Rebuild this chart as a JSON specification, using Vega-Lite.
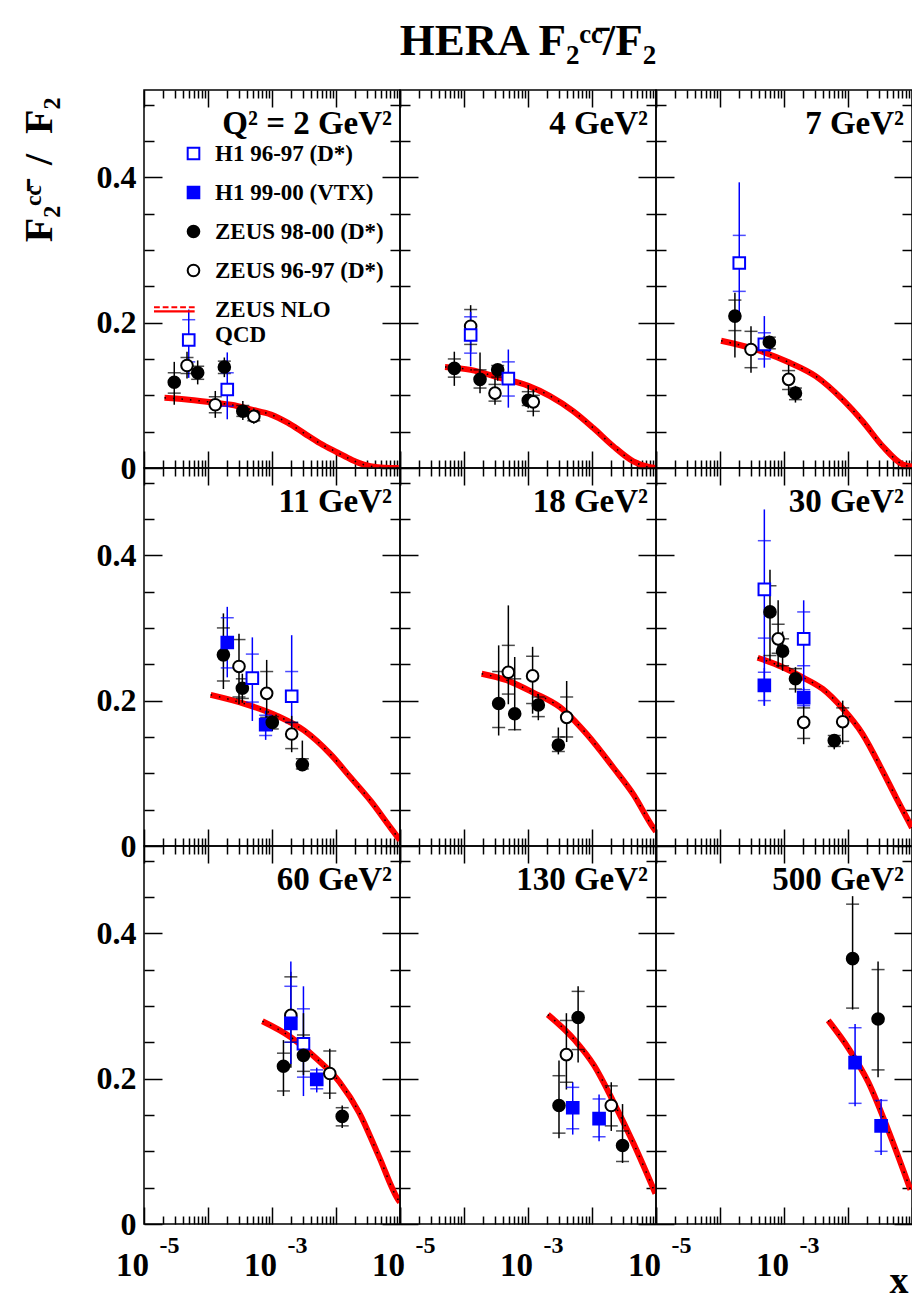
{
"$schema":"https://vega.github.io/schema/vega-lite/v6.json",
"background":"white",
"padding":{"left":18,"top":18,"right":2,"bottom":2},
"title":{"text":"HERA F\u2082\u1d9c\u1d9c\u0304/F\u2082","anchor":"middle","offset":25,"dx":384,"fontSize":45},
"datasets":{
"pts":[
{"q":2,"s":"ZEUS 98-00 (D*)","x":2.97e-5,"y":0.118,"lo":0.087,"hi":0.146,"slo":0.103,"shi":0.131},
{"q":2,"s":"ZEUS 96-97 (D*)","x":4.7e-5,"y":0.141,"lo":0.123,"hi":0.160,"slo":0.130,"shi":0.152},
{"q":2,"s":"H1 96-97 (D*)","x":5.0e-5,"y":0.176,"lo":0.124,"hi":0.218,"slo":0.146,"shi":0.204},
{"q":2,"s":"ZEUS 98-00 (D*)","x":6.9e-5,"y":0.131,"lo":0.115,"hi":0.148,"slo":0.122,"shi":0.140},
{"q":2,"s":"ZEUS 96-97 (D*)","x":1.3e-4,"y":0.087,"lo":0.069,"hi":0.106,"slo":0.076,"shi":0.098},
{"q":2,"s":"ZEUS 98-00 (D*)","x":1.8e-4,"y":0.139,"lo":0.125,"hi":0.152,"slo":0.130,"shi":0.147},
{"q":2,"s":"H1 96-97 (D*)","x":2.0e-4,"y":0.108,"lo":0.067,"hi":0.159,"slo":0.085,"shi":0.131},
{"q":2,"s":"ZEUS 98-00 (D*)","x":3.5e-4,"y":0.078,"lo":0.066,"hi":0.092,"slo":0.071,"shi":0.086},
{"q":2,"s":"ZEUS 96-97 (D*)","x":5.2e-4,"y":0.071,"lo":0.061,"hi":0.082,"slo":0.065,"shi":0.077},
{"q":4,"s":"ZEUS 98-00 (D*)","x":7.06e-5,"y":0.137,"lo":0.113,"hi":0.160,"slo":0.125,"shi":0.150},
{"q":4,"s":"ZEUS 96-97 (D*)","x":1.27e-4,"y":0.195,"lo":0.160,"hi":0.224,"slo":0.170,"shi":0.218},
{"q":4,"s":"H1 96-97 (D*)","x":1.27e-4,"y":0.183,"lo":0.140,"hi":0.215,"slo":0.158,"shi":0.208},
{"q":4,"s":"ZEUS 98-00 (D*)","x":1.78e-4,"y":0.122,"lo":0.103,"hi":0.159,"slo":0.110,"shi":0.135},
{"q":4,"s":"ZEUS 96-97 (D*)","x":3.05e-4,"y":0.103,"lo":0.087,"hi":0.123,"slo":0.092,"shi":0.115},
{"q":4,"s":"ZEUS 98-00 (D*)","x":3.36e-4,"y":0.135,"lo":0.120,"hi":0.143,"slo":0.125,"shi":0.141},
{"q":4,"s":"H1 96-97 (D*)","x":4.93e-4,"y":0.123,"lo":0.083,"hi":0.163,"slo":0.099,"shi":0.146},
{"q":4,"s":"ZEUS 98-00 (D*)","x":1.01e-3,"y":0.093,"lo":0.082,"hi":0.114,"slo":0.086,"shi":0.105},
{"q":4,"s":"ZEUS 96-97 (D*)","x":1.21e-3,"y":0.091,"lo":0.071,"hi":0.108,"slo":0.078,"shi":0.100},
{"q":7,"s":"ZEUS 98-00 (D*)","x":1.71e-4,"y":0.209,"lo":0.152,"hi":0.241,"slo":0.189,"shi":0.231},
{"q":7,"s":"H1 96-97 (D*)","x":2.0e-4,"y":0.282,"lo":0.210,"hi":0.393,"slo":0.243,"shi":0.320},
{"q":7,"s":"ZEUS 96-97 (D*)","x":3.05e-4,"y":0.163,"lo":0.131,"hi":0.195,"slo":0.138,"shi":0.188},
{"q":7,"s":"H1 96-97 (D*)","x":4.93e-4,"y":0.170,"lo":0.138,"hi":0.209,"slo":0.150,"shi":0.186},
{"q":7,"s":"ZEUS 98-00 (D*)","x":5.9e-4,"y":0.173,"lo":0.160,"hi":0.182,"slo":0.164,"shi":0.180},
{"q":7,"s":"ZEUS 96-97 (D*)","x":1.18e-3,"y":0.122,"lo":0.100,"hi":0.142,"slo":0.108,"shi":0.134},
{"q":7,"s":"ZEUS 98-00 (D*)","x":1.51e-3,"y":0.103,"lo":0.090,"hi":0.113,"slo":0.094,"shi":0.110},
{"q":11,"s":"ZEUS 98-00 (D*)","x":1.74e-4,"y":0.263,"lo":0.216,"hi":0.320,"slo":0.227,"shi":0.300},
{"q":11,"s":"H1 99-00 (VTX)","x":2.0e-4,"y":0.280,"lo":0.232,"hi":0.329,"slo":0.245,"shi":0.314},
{"q":11,"s":"ZEUS 96-97 (D*)","x":3.05e-4,"y":0.247,"lo":0.195,"hi":0.292,"slo":0.205,"shi":0.284},
{"q":11,"s":"ZEUS 98-00 (D*)","x":3.44e-4,"y":0.217,"lo":0.197,"hi":0.237,"slo":0.203,"shi":0.230},
{"q":11,"s":"H1 96-97 (D*)","x":4.93e-4,"y":0.231,"lo":0.172,"hi":0.287,"slo":0.198,"shi":0.264},
{"q":11,"s":"H1 99-00 (VTX)","x":7.96e-4,"y":0.167,"lo":0.146,"hi":0.186,"slo":0.152,"shi":0.180},
{"q":11,"s":"ZEUS 96-97 (D*)","x":8.26e-4,"y":0.210,"lo":0.168,"hi":0.256,"slo":0.177,"shi":0.240},
{"q":11,"s":"ZEUS 98-00 (D*)","x":1.01e-3,"y":0.170,"lo":0.158,"hi":0.180,"slo":0.161,"shi":0.178},
{"q":11,"s":"H1 96-97 (D*)","x":2.03e-3,"y":0.206,"lo":0.154,"hi":0.290,"slo":0.170,"shi":0.240},
{"q":11,"s":"ZEUS 96-97 (D*)","x":2.03e-3,"y":0.154,"lo":0.129,"hi":0.179,"slo":0.134,"shi":0.170},
{"q":11,"s":"ZEUS 98-00 (D*)","x":2.98e-3,"y":0.112,"lo":0.103,"hi":0.145,"slo":0.106,"shi":0.120},
{"q":18,"s":"ZEUS 98-00 (D*)","x":3.48e-4,"y":0.196,"lo":0.152,"hi":0.276,"slo":0.163,"shi":0.240},
{"q":18,"s":"ZEUS 96-97 (D*)","x":4.93e-4,"y":0.239,"lo":0.195,"hi":0.331,"slo":0.209,"shi":0.276},
{"q":18,"s":"ZEUS 98-00 (D*)","x":6.2e-4,"y":0.182,"lo":0.159,"hi":0.260,"slo":0.160,"shi":0.230},
{"q":18,"s":"ZEUS 96-97 (D*)","x":1.18e-3,"y":0.234,"lo":0.182,"hi":0.274,"slo":0.196,"shi":0.261},
{"q":18,"s":"ZEUS 98-00 (D*)","x":1.45e-3,"y":0.194,"lo":0.173,"hi":0.209,"slo":0.178,"shi":0.205},
{"q":18,"s":"ZEUS 98-00 (D*)","x":2.98e-3,"y":0.139,"lo":0.126,"hi":0.163,"slo":0.130,"shi":0.150},
{"q":18,"s":"ZEUS 96-97 (D*)","x":4.02e-3,"y":0.177,"lo":0.143,"hi":0.227,"slo":0.150,"shi":0.205},
{"q":30,"s":"H1 96-97 (D*)","x":4.93e-4,"y":0.353,"lo":0.193,"hi":0.463,"slo":0.286,"shi":0.420},
{"q":30,"s":"H1 99-00 (VTX)","x":4.93e-4,"y":0.221,"lo":0.193,"hi":0.245,"slo":0.200,"shi":0.239},
{"q":30,"s":"ZEUS 98-00 (D*)","x":6.04e-4,"y":0.322,"lo":0.255,"hi":0.380,"slo":0.262,"shi":0.358},
{"q":30,"s":"ZEUS 96-97 (D*)","x":8.1e-4,"y":0.285,"lo":0.246,"hi":0.338,"slo":0.265,"shi":0.305},
{"q":30,"s":"ZEUS 98-00 (D*)","x":9.5e-4,"y":0.268,"lo":0.241,"hi":0.295,"slo":0.248,"shi":0.285},
{"q":30,"s":"ZEUS 98-00 (D*)","x":1.51e-3,"y":0.230,"lo":0.211,"hi":0.246,"slo":0.216,"shi":0.244},
{"q":30,"s":"H1 96-97 (D*)","x":2.03e-3,"y":0.285,"lo":0.214,"hi":0.338,"slo":0.248,"shi":0.322},
{"q":30,"s":"H1 99-00 (VTX)","x":2.03e-3,"y":0.204,"lo":0.190,"hi":0.218,"slo":0.193,"shi":0.215},
{"q":30,"s":"ZEUS 96-97 (D*)","x":2.03e-3,"y":0.170,"lo":0.140,"hi":0.193,"slo":0.148,"shi":0.190},
{"q":30,"s":"ZEUS 98-00 (D*)","x":6.1e-3,"y":0.145,"lo":0.133,"hi":0.154,"slo":0.137,"shi":0.152},
{"q":30,"s":"ZEUS 96-97 (D*)","x":8.26e-3,"y":0.171,"lo":0.140,"hi":0.200,"slo":0.144,"shi":0.190},
{"q":60,"s":"ZEUS 98-00 (D*)","x":1.51e-3,"y":0.217,"lo":0.176,"hi":0.253,"slo":0.183,"shi":0.235},
{"q":60,"s":"ZEUS 96-97 (D*)","x":1.97e-3,"y":0.287,"lo":0.215,"hi":0.347,"slo":0.250,"shi":0.340},
{"q":60,"s":"H1 99-00 (VTX)","x":1.97e-3,"y":0.276,"lo":0.220,"hi":0.361,"slo":0.250,"shi":0.327},
{"q":60,"s":"H1 96-97 (D*)","x":3.1e-3,"y":0.248,"lo":0.176,"hi":0.327,"slo":0.202,"shi":0.296},
{"q":60,"s":"ZEUS 98-00 (D*)","x":3.1e-3,"y":0.232,"lo":0.205,"hi":0.290,"slo":0.210,"shi":0.260},
{"q":60,"s":"H1 99-00 (VTX)","x":5.0e-3,"y":0.199,"lo":0.181,"hi":0.215,"slo":0.186,"shi":0.212},
{"q":60,"s":"ZEUS 96-97 (D*)","x":8.0e-3,"y":0.207,"lo":0.172,"hi":0.241,"slo":0.180,"shi":0.238},
{"q":60,"s":"ZEUS 98-00 (D*)","x":1.25e-2,"y":0.148,"lo":0.132,"hi":0.163,"slo":0.135,"shi":0.160},
{"q":130,"s":"ZEUS 98-00 (D*)","x":3.05e-3,"y":0.163,"lo":0.118,"hi":0.225,"slo":0.125,"shi":0.204},
{"q":130,"s":"ZEUS 96-97 (D*)","x":3.98e-3,"y":0.233,"lo":0.185,"hi":0.290,"slo":0.195,"shi":0.280},
{"q":130,"s":"H1 99-00 (VTX)","x":5.0e-3,"y":0.160,"lo":0.123,"hi":0.195,"slo":0.131,"shi":0.188},
{"q":130,"s":"ZEUS 98-00 (D*)","x":6.07e-3,"y":0.284,"lo":0.222,"hi":0.327,"slo":0.240,"shi":0.320},
{"q":130,"s":"H1 99-00 (VTX)","x":1.29e-2,"y":0.145,"lo":0.114,"hi":0.178,"slo":0.120,"shi":0.172},
{"q":130,"s":"ZEUS 96-97 (D*)","x":2.0e-2,"y":0.163,"lo":0.128,"hi":0.195,"slo":0.135,"shi":0.190},
{"q":130,"s":"ZEUS 98-00 (D*)","x":3.0e-2,"y":0.108,"lo":0.084,"hi":0.165,"slo":0.086,"shi":0.128},
{"q":500,"s":"ZEUS 98-00 (D*)","x":1.18e-2,"y":0.365,"lo":0.295,"hi":0.451,"slo":0.297,"shi":0.440},
{"q":500,"s":"H1 99-00 (VTX)","x":1.29e-2,"y":0.222,"lo":0.162,"hi":0.275,"slo":0.166,"shi":0.270},
{"q":500,"s":"ZEUS 98-00 (D*)","x":2.95e-2,"y":0.282,"lo":0.202,"hi":0.361,"slo":0.212,"shi":0.350},
{"q":500,"s":"H1 99-00 (VTX)","x":3.29e-2,"y":0.135,"lo":0.095,"hi":0.172,"slo":0.100,"shi":0.170}
],
"curve":[
{"q":2,"x":2.09e-5,"y":0.0966},{"q":2,"x":5.01e-5,"y":0.094},{"q":2,"x":1.26e-4,"y":0.090},{"q":2,"x":2.29e-4,"y":0.087},{"q":2,"x":5.01e-4,"y":0.080},{"q":2,"x":9.64e-4,"y":0.0735},{"q":2,"x":1.78e-3,"y":0.062},{"q":2,"x":3.16e-3,"y":0.048},{"q":2,"x":5.62e-3,"y":0.034},{"q":2,"x":1.07e-2,"y":0.021},{"q":2,"x":1.78e-2,"y":0.011},{"q":2,"x":2.75e-2,"y":0.0045},{"q":2,"x":4.47e-2,"y":0.001},{"q":2,"x":7.24e-2,"y":0.0},{"q":2,"x":9.55e-2,"y":0.0},
{"q":4,"x":5.05e-5,"y":0.139},{"q":4,"x":1.27e-4,"y":0.135},{"q":4,"x":3.63e-4,"y":0.124},{"q":4,"x":1.01e-3,"y":0.113},{"q":4,"x":2.21e-3,"y":0.099},{"q":4,"x":5.13e-3,"y":0.078},{"q":4,"x":1.05e-2,"y":0.055},{"q":4,"x":2.15e-2,"y":0.030},{"q":4,"x":4.43e-2,"y":0.009},{"q":4,"x":8.05e-2,"y":0.001},{"q":4,"x":0.1,"y":0.0},
{"q":7,"x":1.04e-4,"y":0.175},{"q":7,"x":3.63e-4,"y":0.163},{"q":7,"x":1.21e-3,"y":0.145},{"q":7,"x":3.16e-3,"y":0.126},{"q":7,"x":8.26e-3,"y":0.094},{"q":7,"x":1.70e-2,"y":0.064},{"q":7,"x":3.48e-2,"y":0.030},{"q":7,"x":7.14e-2,"y":0.005},{"q":7,"x":0.1,"y":0.002},
{"q":11,"x":1.10e-4,"y":0.208},{"q":11,"x":3.63e-4,"y":0.196},{"q":11,"x":1.21e-3,"y":0.179},{"q":11,"x":3.16e-3,"y":0.159},{"q":11,"x":8.26e-3,"y":0.126},{"q":11,"x":1.70e-2,"y":0.094},{"q":11,"x":3.48e-2,"y":0.062},{"q":11,"x":7.14e-2,"y":0.025},{"q":11,"x":0.1,"y":0.008},
{"q":18,"x":1.89e-4,"y":0.237},{"q":18,"x":4.65e-4,"y":0.228},{"q":18,"x":1.21e-3,"y":0.211},{"q":18,"x":3.16e-3,"y":0.191},{"q":18,"x":8.26e-3,"y":0.154},{"q":18,"x":2.15e-2,"y":0.108},{"q":18,"x":4.43e-2,"y":0.071},{"q":18,"x":9.08e-2,"y":0.025},{"q":18,"x":0.1,"y":0.02},
{"q":30,"x":3.88e-4,"y":0.259},{"q":30,"x":9.55e-4,"y":0.246},{"q":30,"x":1.96e-3,"y":0.232},{"q":30,"x":4.02e-3,"y":0.216},{"q":30,"x":8.26e-3,"y":0.189},{"q":30,"x":1.69e-2,"y":0.154},{"q":30,"x":3.48e-2,"y":0.103},{"q":30,"x":5.62e-2,"y":0.067},{"q":30,"x":0.1,"y":0.025},
{"q":60,"x":7.08e-4,"y":0.279},{"q":60,"x":1.97e-3,"y":0.257},{"q":60,"x":4.74e-3,"y":0.229},{"q":60,"x":1.14e-2,"y":0.195},{"q":60,"x":2.31e-2,"y":0.153},{"q":60,"x":4.68e-2,"y":0.093},{"q":60,"x":9.44e-2,"y":0.033},{"q":60,"x":0.1,"y":0.03},
{"q":130,"x":2.04e-3,"y":0.288},{"q":130,"x":5.37e-3,"y":0.253},{"q":130,"x":1.08e-2,"y":0.218},{"q":130,"x":2.19e-2,"y":0.167},{"q":130,"x":4.44e-2,"y":0.111},{"q":130,"x":9.79e-2,"y":0.042},
{"q":500,"x":4.91e-3,"y":0.280},{"q":500,"x":1.03e-2,"y":0.241},{"q":500,"x":2.08e-2,"y":0.195},{"q":500,"x":4.21e-2,"y":0.130},{"q":500,"x":9.46e-2,"y":0.047}
]
},
"columns":3,
"spacing":0,
"bounds":"flush",
"concat":[
{"width":256,"height":378,"title":{"text":"Q\u00b2 = 2 GeV\u00b2"},"resolve":{"axis":{"x":"independent","y":"independent"}},
"layer":[
{"data":{"name":"curve"},"transform":[{"filter":"datum.q==2"}],"mark":{"type":"line","color":"#ff0000","strokeWidth":6,"interpolate":"monotone","clip":true},
"encoding":{"x":{"field":"x","type":"quantitative","scale":{"type":"log","domain":[0.00001,0.1],"nice":false},"axis":{"orient":"bottom","values":[0.00001,0.0001,0.001,0.01,0.1],"tickSize":-17,"labels":false,"title":null}},
"y":{"field":"y","type":"quantitative","scale":{"domain":[0,0.52],"nice":false,"zero":false},"axis":{"orient":"left","values":[0,0.2,0.4],"tickSize":-18,"labelExpr":"datum.value==0?'0':format(datum.value,'.1f')","labelFontSize":32,"labelPadding":26,"title":"F\u2082\u1d9c\u1d9c\u0304\u00a0\u00a0/\u00a0\u00a0F\u2082","titleX":-105,"titleY":7,"titleAngle":-90,"titleAlign":"right","titleBaseline":"middle","titleFontSize":40}}}},
{"data":{"name":"curve"},"transform":[{"filter":"datum.q==2"}],"mark":{"type":"line","color":"#000000","strokeWidth":1.5,"strokeDash":[1.5,7],"interpolate":"monotone","clip":true},
"encoding":{"x":{"field":"x","type":"quantitative","scale":{"type":"log","domain":[0.00001,0.1],"nice":false},"axis":{"orient":"top","values":[0.00001,0.0001,0.001,0.01,0.1],"tickSize":-17,"labels":false,"title":null}},
"y":{"field":"y","type":"quantitative","scale":{"domain":[0,0.52],"nice":false,"zero":false},"axis":{"orient":"right","values":[0,0.2,0.4],"tickSize":-18,"labels":false,"title":null}}}},
{"data":{"name":"pts"},"transform":[{"filter":"datum.q==2"}],"mark":{"type":"rule","strokeWidth":1.5},
"encoding":{"x":{"field":"x","type":"quantitative","scale":{"type":"log","domain":[0.00001,0.1],"nice":false},"axis":{"orient":"bottom","values":[0.00002,0.00003,0.00004,0.00005,0.00006,0.00007,0.00008,0.00009,0.0002,0.0003,0.0004,0.0005,0.0006,0.0007,0.0008,0.0009,0.002,0.003,0.004,0.005,0.006,0.007,0.008,0.009,0.02,0.03,0.04,0.05,0.06,0.07,0.08,0.09],"tickSize":-8,"labels":false,"title":null}},
"y":{"field":"lo","type":"quantitative","scale":{"domain":[0,0.52],"nice":false,"zero":false},"axis":{"orient":"left","values":[0.05,0.1,0.15,0.25,0.3,0.35,0.45,0.5],"tickSize":-10,"labels":false,"title":null}},
"y2":{"field":"hi"},
"color":{"field":"s","type":"nominal","scale":{"domain":["H1 96-97 (D*)","H1 99-00 (VTX)","ZEUS 98-00 (D*)","ZEUS 96-97 (D*)"],"range":["#0000ff","#0000ff","#000000","#000000"]},"legend":null}}},
{"data":{"name":"pts"},"transform":[{"filter":"datum.q==2"},{"fold":["slo","shi"],"as":["k","v"]}],"mark":{"type":"tick","orient":"horizontal","size":13,"thickness":1.5},
"encoding":{"x":{"field":"x","type":"quantitative","scale":{"type":"log","domain":[0.00001,0.1],"nice":false},"axis":{"orient":"top","values":[0.00002,0.00003,0.00004,0.00005,0.00006,0.00007,0.00008,0.00009,0.0002,0.0003,0.0004,0.0005,0.0006,0.0007,0.0008,0.0009,0.002,0.003,0.004,0.005,0.006,0.007,0.008,0.009,0.02,0.03,0.04,0.05,0.06,0.07,0.08,0.09],"tickSize":-8,"labels":false,"title":null}},
"y":{"field":"v","type":"quantitative","scale":{"domain":[0,0.52],"nice":false,"zero":false},"axis":{"orient":"right","values":[0.05,0.1,0.15,0.25,0.3,0.35,0.45,0.5],"tickSize":-10,"labels":false,"title":null}},
"color":{"field":"s","type":"nominal","scale":{"domain":["H1 96-97 (D*)","H1 99-00 (VTX)","ZEUS 98-00 (D*)","ZEUS 96-97 (D*)"],"range":["#0000ff","#0000ff","#000000","#000000"]},"legend":null}}},
{"data":{"name":"pts"},"transform":[{"filter":"datum.q==2"}],"mark":{"type":"point","opacity":1,"strokeWidth":2,"size":135},
"encoding":{"x":{"field":"x","type":"quantitative","scale":{"type":"log","domain":[0.00001,0.1],"nice":false},"axis":null},
"y":{"field":"y","type":"quantitative","scale":{"domain":[0,0.52],"nice":false,"zero":false},"axis":null},
"shape":{"field":"s","type":"nominal","scale":{"domain":["H1 96-97 (D*)","H1 99-00 (VTX)","ZEUS 98-00 (D*)","ZEUS 96-97 (D*)","ZEUS NLO QCD"],"range":["square","square","circle","circle","M-6.8,-0.55H-5.8V-0.2H-6.8ZM-5.3,-0.55H-4.3V-0.2H-5.3ZM-3.8,-0.55H-2.8V-0.2H-3.8ZM-2.3,-0.55H-1.3V-0.2H-2.3ZM-0.8,-0.55H0.2V-0.2H-0.8ZM-6.8,0.15H0.2V0.5H-6.8Z"]},"legend":{"title":null,"orient":"none","legendX":38,"legendY":52,"labelExpr":"datum.label=='ZEUS NLO QCD'?['ZEUS NLO','QCD']:datum.label"}},
"fill":{"field":"s","type":"nominal","scale":{"domain":["H1 96-97 (D*)","H1 99-00 (VTX)","ZEUS 98-00 (D*)","ZEUS 96-97 (D*)","ZEUS NLO QCD"],"range":["#ffffff","#0000ff","#000000","#ffffff","#ff0000"]},"legend":{"title":null,"orient":"none","legendX":38,"legendY":52,"labelExpr":"datum.label=='ZEUS NLO QCD'?['ZEUS NLO','QCD']:datum.label"}},
"stroke":{"field":"s","type":"nominal","scale":{"domain":["H1 96-97 (D*)","H1 99-00 (VTX)","ZEUS 98-00 (D*)","ZEUS 96-97 (D*)","ZEUS NLO QCD"],"range":["#0000ff","#0000ff","#000000","#000000","transparent"]},"legend":{"title":null,"orient":"none","legendX":38,"legendY":52,"labelExpr":"datum.label=='ZEUS NLO QCD'?['ZEUS NLO','QCD']:datum.label"}}}}
]},
{"width":256,"height":378,"title":{"text":"4 GeV\u00b2"},"resolve":{"axis":{"x":"independent","y":"independent"}},
"layer":[
{"data":{"name":"curve"},"transform":[{"filter":"datum.q==4"}],"mark":{"type":"line","color":"#ff0000","strokeWidth":6,"interpolate":"monotone","clip":true},
"encoding":{"x":{"field":"x","type":"quantitative","scale":{"type":"log","domain":[0.00001,0.1],"nice":false},"axis":{"orient":"bottom","values":[0.00001,0.0001,0.001,0.01,0.1],"tickSize":-17,"labels":false,"title":null}},
"y":{"field":"y","type":"quantitative","scale":{"domain":[0,0.52],"nice":false,"zero":false},"axis":{"orient":"left","values":[0,0.2,0.4],"tickSize":-18,"labels":false,"title":null}}}},
{"data":{"name":"curve"},"transform":[{"filter":"datum.q==4"}],"mark":{"type":"line","color":"#000000","strokeWidth":1.5,"strokeDash":[1.5,7],"interpolate":"monotone","clip":true},
"encoding":{"x":{"field":"x","type":"quantitative","scale":{"type":"log","domain":[0.00001,0.1],"nice":false},"axis":{"orient":"top","values":[0.00001,0.0001,0.001,0.01,0.1],"tickSize":-17,"labels":false,"title":null}},
"y":{"field":"y","type":"quantitative","scale":{"domain":[0,0.52],"nice":false,"zero":false},"axis":{"orient":"right","values":[0,0.2,0.4],"tickSize":-18,"labels":false,"title":null}}}},
{"data":{"name":"pts"},"transform":[{"filter":"datum.q==4"}],"mark":{"type":"rule","strokeWidth":1.5},
"encoding":{"x":{"field":"x","type":"quantitative","scale":{"type":"log","domain":[0.00001,0.1],"nice":false},"axis":{"orient":"bottom","values":[0.00002,0.00003,0.00004,0.00005,0.00006,0.00007,0.00008,0.00009,0.0002,0.0003,0.0004,0.0005,0.0006,0.0007,0.0008,0.0009,0.002,0.003,0.004,0.005,0.006,0.007,0.008,0.009,0.02,0.03,0.04,0.05,0.06,0.07,0.08,0.09],"tickSize":-8,"labels":false,"title":null}},
"y":{"field":"lo","type":"quantitative","scale":{"domain":[0,0.52],"nice":false,"zero":false},"axis":{"orient":"left","values":[0.05,0.1,0.15,0.25,0.3,0.35,0.45,0.5],"tickSize":-10,"labels":false,"title":null}},
"y2":{"field":"hi"},
"color":{"field":"s","type":"nominal","scale":{"domain":["H1 96-97 (D*)","H1 99-00 (VTX)","ZEUS 98-00 (D*)","ZEUS 96-97 (D*)"],"range":["#0000ff","#0000ff","#000000","#000000"]},"legend":null}}},
{"data":{"name":"pts"},"transform":[{"filter":"datum.q==4"},{"fold":["slo","shi"],"as":["k","v"]}],"mark":{"type":"tick","orient":"horizontal","size":13,"thickness":1.5},
"encoding":{"x":{"field":"x","type":"quantitative","scale":{"type":"log","domain":[0.00001,0.1],"nice":false},"axis":{"orient":"top","values":[0.00002,0.00003,0.00004,0.00005,0.00006,0.00007,0.00008,0.00009,0.0002,0.0003,0.0004,0.0005,0.0006,0.0007,0.0008,0.0009,0.002,0.003,0.004,0.005,0.006,0.007,0.008,0.009,0.02,0.03,0.04,0.05,0.06,0.07,0.08,0.09],"tickSize":-8,"labels":false,"title":null}},
"y":{"field":"v","type":"quantitative","scale":{"domain":[0,0.52],"nice":false,"zero":false},"axis":{"orient":"right","values":[0.05,0.1,0.15,0.25,0.3,0.35,0.45,0.5],"tickSize":-10,"labels":false,"title":null}},
"color":{"field":"s","type":"nominal","scale":{"domain":["H1 96-97 (D*)","H1 99-00 (VTX)","ZEUS 98-00 (D*)","ZEUS 96-97 (D*)"],"range":["#0000ff","#0000ff","#000000","#000000"]},"legend":null}}},
{"data":{"name":"pts"},"transform":[{"filter":"datum.q==4"}],"mark":{"type":"point","opacity":1,"strokeWidth":2,"size":135},
"encoding":{"x":{"field":"x","type":"quantitative","scale":{"type":"log","domain":[0.00001,0.1],"nice":false},"axis":null},
"y":{"field":"y","type":"quantitative","scale":{"domain":[0,0.52],"nice":false,"zero":false},"axis":null},
"shape":{"field":"s","type":"nominal","legend":null},"fill":{"field":"s","type":"nominal","legend":null},"stroke":{"field":"s","type":"nominal","legend":null}}}
]},
{"width":256,"height":378,"title":{"text":"7 GeV\u00b2"},"resolve":{"axis":{"x":"independent","y":"independent"}},
"layer":[
{"data":{"name":"curve"},"transform":[{"filter":"datum.q==7"}],"mark":{"type":"line","color":"#ff0000","strokeWidth":6,"interpolate":"monotone","clip":true},
"encoding":{"x":{"field":"x","type":"quantitative","scale":{"type":"log","domain":[0.00001,0.1],"nice":false},"axis":{"orient":"bottom","values":[0.00001,0.0001,0.001,0.01,0.1],"tickSize":-17,"labels":false,"title":null}},
"y":{"field":"y","type":"quantitative","scale":{"domain":[0,0.52],"nice":false,"zero":false},"axis":{"orient":"left","values":[0,0.2,0.4],"tickSize":-18,"labels":false,"title":null}}}},
{"data":{"name":"curve"},"transform":[{"filter":"datum.q==7"}],"mark":{"type":"line","color":"#000000","strokeWidth":1.5,"strokeDash":[1.5,7],"interpolate":"monotone","clip":true},
"encoding":{"x":{"field":"x","type":"quantitative","scale":{"type":"log","domain":[0.00001,0.1],"nice":false},"axis":{"orient":"top","values":[0.00001,0.0001,0.001,0.01,0.1],"tickSize":-17,"labels":false,"title":null}},
"y":{"field":"y","type":"quantitative","scale":{"domain":[0,0.52],"nice":false,"zero":false},"axis":{"orient":"right","values":[0,0.2,0.4],"tickSize":-18,"labels":false,"title":null}}}},
{"data":{"name":"pts"},"transform":[{"filter":"datum.q==7"}],"mark":{"type":"rule","strokeWidth":1.5},
"encoding":{"x":{"field":"x","type":"quantitative","scale":{"type":"log","domain":[0.00001,0.1],"nice":false},"axis":{"orient":"bottom","values":[0.00002,0.00003,0.00004,0.00005,0.00006,0.00007,0.00008,0.00009,0.0002,0.0003,0.0004,0.0005,0.0006,0.0007,0.0008,0.0009,0.002,0.003,0.004,0.005,0.006,0.007,0.008,0.009,0.02,0.03,0.04,0.05,0.06,0.07,0.08,0.09],"tickSize":-8,"labels":false,"title":null}},
"y":{"field":"lo","type":"quantitative","scale":{"domain":[0,0.52],"nice":false,"zero":false},"axis":{"orient":"left","values":[0.05,0.1,0.15,0.25,0.3,0.35,0.45,0.5],"tickSize":-10,"labels":false,"title":null}},
"y2":{"field":"hi"},
"color":{"field":"s","type":"nominal","scale":{"domain":["H1 96-97 (D*)","H1 99-00 (VTX)","ZEUS 98-00 (D*)","ZEUS 96-97 (D*)"],"range":["#0000ff","#0000ff","#000000","#000000"]},"legend":null}}},
{"data":{"name":"pts"},"transform":[{"filter":"datum.q==7"},{"fold":["slo","shi"],"as":["k","v"]}],"mark":{"type":"tick","orient":"horizontal","size":13,"thickness":1.5},
"encoding":{"x":{"field":"x","type":"quantitative","scale":{"type":"log","domain":[0.00001,0.1],"nice":false},"axis":{"orient":"top","values":[0.00002,0.00003,0.00004,0.00005,0.00006,0.00007,0.00008,0.00009,0.0002,0.0003,0.0004,0.0005,0.0006,0.0007,0.0008,0.0009,0.002,0.003,0.004,0.005,0.006,0.007,0.008,0.009,0.02,0.03,0.04,0.05,0.06,0.07,0.08,0.09],"tickSize":-8,"labels":false,"title":null}},
"y":{"field":"v","type":"quantitative","scale":{"domain":[0,0.52],"nice":false,"zero":false},"axis":{"orient":"right","values":[0.05,0.1,0.15,0.25,0.3,0.35,0.45,0.5],"tickSize":-10,"labels":false,"title":null}},
"color":{"field":"s","type":"nominal","scale":{"domain":["H1 96-97 (D*)","H1 99-00 (VTX)","ZEUS 98-00 (D*)","ZEUS 96-97 (D*)"],"range":["#0000ff","#0000ff","#000000","#000000"]},"legend":null}}},
{"data":{"name":"pts"},"transform":[{"filter":"datum.q==7"}],"mark":{"type":"point","opacity":1,"strokeWidth":2,"size":135},
"encoding":{"x":{"field":"x","type":"quantitative","scale":{"type":"log","domain":[0.00001,0.1],"nice":false},"axis":null},
"y":{"field":"y","type":"quantitative","scale":{"domain":[0,0.52],"nice":false,"zero":false},"axis":null},
"shape":{"field":"s","type":"nominal","legend":null},"fill":{"field":"s","type":"nominal","legend":null},"stroke":{"field":"s","type":"nominal","legend":null}}}
]},
{"width":256,"height":378,"title":{"text":"11 GeV\u00b2"},"resolve":{"axis":{"x":"independent","y":"independent"}},
"layer":[
{"data":{"name":"curve"},"transform":[{"filter":"datum.q==11"}],"mark":{"type":"line","color":"#ff0000","strokeWidth":6,"interpolate":"monotone","clip":true},
"encoding":{"x":{"field":"x","type":"quantitative","scale":{"type":"log","domain":[0.00001,0.1],"nice":false},"axis":{"orient":"bottom","values":[0.00001,0.0001,0.001,0.01,0.1],"tickSize":-17,"labels":false,"title":null}},
"y":{"field":"y","type":"quantitative","scale":{"domain":[0,0.52],"nice":false,"zero":false},"axis":{"orient":"left","values":[0,0.2,0.4],"tickSize":-18,"labelExpr":"datum.value==0?'0':format(datum.value,'.1f')","labelFontSize":32,"labelPadding":26,"title":null}}}},
{"data":{"name":"curve"},"transform":[{"filter":"datum.q==11"}],"mark":{"type":"line","color":"#000000","strokeWidth":1.5,"strokeDash":[1.5,7],"interpolate":"monotone","clip":true},
"encoding":{"x":{"field":"x","type":"quantitative","scale":{"type":"log","domain":[0.00001,0.1],"nice":false},"axis":{"orient":"top","values":[0.00001,0.0001,0.001,0.01,0.1],"tickSize":-17,"labels":false,"title":null}},
"y":{"field":"y","type":"quantitative","scale":{"domain":[0,0.52],"nice":false,"zero":false},"axis":{"orient":"right","values":[0,0.2,0.4],"tickSize":-18,"labels":false,"title":null}}}},
{"data":{"name":"pts"},"transform":[{"filter":"datum.q==11"}],"mark":{"type":"rule","strokeWidth":1.5},
"encoding":{"x":{"field":"x","type":"quantitative","scale":{"type":"log","domain":[0.00001,0.1],"nice":false},"axis":{"orient":"bottom","values":[0.00002,0.00003,0.00004,0.00005,0.00006,0.00007,0.00008,0.00009,0.0002,0.0003,0.0004,0.0005,0.0006,0.0007,0.0008,0.0009,0.002,0.003,0.004,0.005,0.006,0.007,0.008,0.009,0.02,0.03,0.04,0.05,0.06,0.07,0.08,0.09],"tickSize":-8,"labels":false,"title":null}},
"y":{"field":"lo","type":"quantitative","scale":{"domain":[0,0.52],"nice":false,"zero":false},"axis":{"orient":"left","values":[0.05,0.1,0.15,0.25,0.3,0.35,0.45,0.5],"tickSize":-10,"labels":false,"title":null}},
"y2":{"field":"hi"},
"color":{"field":"s","type":"nominal","scale":{"domain":["H1 96-97 (D*)","H1 99-00 (VTX)","ZEUS 98-00 (D*)","ZEUS 96-97 (D*)"],"range":["#0000ff","#0000ff","#000000","#000000"]},"legend":null}}},
{"data":{"name":"pts"},"transform":[{"filter":"datum.q==11"},{"fold":["slo","shi"],"as":["k","v"]}],"mark":{"type":"tick","orient":"horizontal","size":13,"thickness":1.5},
"encoding":{"x":{"field":"x","type":"quantitative","scale":{"type":"log","domain":[0.00001,0.1],"nice":false},"axis":{"orient":"top","values":[0.00002,0.00003,0.00004,0.00005,0.00006,0.00007,0.00008,0.00009,0.0002,0.0003,0.0004,0.0005,0.0006,0.0007,0.0008,0.0009,0.002,0.003,0.004,0.005,0.006,0.007,0.008,0.009,0.02,0.03,0.04,0.05,0.06,0.07,0.08,0.09],"tickSize":-8,"labels":false,"title":null}},
"y":{"field":"v","type":"quantitative","scale":{"domain":[0,0.52],"nice":false,"zero":false},"axis":{"orient":"right","values":[0.05,0.1,0.15,0.25,0.3,0.35,0.45,0.5],"tickSize":-10,"labels":false,"title":null}},
"color":{"field":"s","type":"nominal","scale":{"domain":["H1 96-97 (D*)","H1 99-00 (VTX)","ZEUS 98-00 (D*)","ZEUS 96-97 (D*)"],"range":["#0000ff","#0000ff","#000000","#000000"]},"legend":null}}},
{"data":{"name":"pts"},"transform":[{"filter":"datum.q==11"}],"mark":{"type":"point","opacity":1,"strokeWidth":2,"size":135},
"encoding":{"x":{"field":"x","type":"quantitative","scale":{"type":"log","domain":[0.00001,0.1],"nice":false},"axis":null},
"y":{"field":"y","type":"quantitative","scale":{"domain":[0,0.52],"nice":false,"zero":false},"axis":null},
"shape":{"field":"s","type":"nominal","legend":null},"fill":{"field":"s","type":"nominal","legend":null},"stroke":{"field":"s","type":"nominal","legend":null}}}
]},
{"width":256,"height":378,"title":{"text":"18 GeV\u00b2"},"resolve":{"axis":{"x":"independent","y":"independent"}},
"layer":[
{"data":{"name":"curve"},"transform":[{"filter":"datum.q==18"}],"mark":{"type":"line","color":"#ff0000","strokeWidth":6,"interpolate":"monotone","clip":true},
"encoding":{"x":{"field":"x","type":"quantitative","scale":{"type":"log","domain":[0.00001,0.1],"nice":false},"axis":{"orient":"bottom","values":[0.00001,0.0001,0.001,0.01,0.1],"tickSize":-17,"labels":false,"title":null}},
"y":{"field":"y","type":"quantitative","scale":{"domain":[0,0.52],"nice":false,"zero":false},"axis":{"orient":"left","values":[0,0.2,0.4],"tickSize":-18,"labels":false,"title":null}}}},
{"data":{"name":"curve"},"transform":[{"filter":"datum.q==18"}],"mark":{"type":"line","color":"#000000","strokeWidth":1.5,"strokeDash":[1.5,7],"interpolate":"monotone","clip":true},
"encoding":{"x":{"field":"x","type":"quantitative","scale":{"type":"log","domain":[0.00001,0.1],"nice":false},"axis":{"orient":"top","values":[0.00001,0.0001,0.001,0.01,0.1],"tickSize":-17,"labels":false,"title":null}},
"y":{"field":"y","type":"quantitative","scale":{"domain":[0,0.52],"nice":false,"zero":false},"axis":{"orient":"right","values":[0,0.2,0.4],"tickSize":-18,"labels":false,"title":null}}}},
{"data":{"name":"pts"},"transform":[{"filter":"datum.q==18"}],"mark":{"type":"rule","strokeWidth":1.5},
"encoding":{"x":{"field":"x","type":"quantitative","scale":{"type":"log","domain":[0.00001,0.1],"nice":false},"axis":{"orient":"bottom","values":[0.00002,0.00003,0.00004,0.00005,0.00006,0.00007,0.00008,0.00009,0.0002,0.0003,0.0004,0.0005,0.0006,0.0007,0.0008,0.0009,0.002,0.003,0.004,0.005,0.006,0.007,0.008,0.009,0.02,0.03,0.04,0.05,0.06,0.07,0.08,0.09],"tickSize":-8,"labels":false,"title":null}},
"y":{"field":"lo","type":"quantitative","scale":{"domain":[0,0.52],"nice":false,"zero":false},"axis":{"orient":"left","values":[0.05,0.1,0.15,0.25,0.3,0.35,0.45,0.5],"tickSize":-10,"labels":false,"title":null}},
"y2":{"field":"hi"},
"color":{"field":"s","type":"nominal","scale":{"domain":["H1 96-97 (D*)","H1 99-00 (VTX)","ZEUS 98-00 (D*)","ZEUS 96-97 (D*)"],"range":["#0000ff","#0000ff","#000000","#000000"]},"legend":null}}},
{"data":{"name":"pts"},"transform":[{"filter":"datum.q==18"},{"fold":["slo","shi"],"as":["k","v"]}],"mark":{"type":"tick","orient":"horizontal","size":13,"thickness":1.5},
"encoding":{"x":{"field":"x","type":"quantitative","scale":{"type":"log","domain":[0.00001,0.1],"nice":false},"axis":{"orient":"top","values":[0.00002,0.00003,0.00004,0.00005,0.00006,0.00007,0.00008,0.00009,0.0002,0.0003,0.0004,0.0005,0.0006,0.0007,0.0008,0.0009,0.002,0.003,0.004,0.005,0.006,0.007,0.008,0.009,0.02,0.03,0.04,0.05,0.06,0.07,0.08,0.09],"tickSize":-8,"labels":false,"title":null}},
"y":{"field":"v","type":"quantitative","scale":{"domain":[0,0.52],"nice":false,"zero":false},"axis":{"orient":"right","values":[0.05,0.1,0.15,0.25,0.3,0.35,0.45,0.5],"tickSize":-10,"labels":false,"title":null}},
"color":{"field":"s","type":"nominal","scale":{"domain":["H1 96-97 (D*)","H1 99-00 (VTX)","ZEUS 98-00 (D*)","ZEUS 96-97 (D*)"],"range":["#0000ff","#0000ff","#000000","#000000"]},"legend":null}}},
{"data":{"name":"pts"},"transform":[{"filter":"datum.q==18"}],"mark":{"type":"point","opacity":1,"strokeWidth":2,"size":135},
"encoding":{"x":{"field":"x","type":"quantitative","scale":{"type":"log","domain":[0.00001,0.1],"nice":false},"axis":null},
"y":{"field":"y","type":"quantitative","scale":{"domain":[0,0.52],"nice":false,"zero":false},"axis":null},
"shape":{"field":"s","type":"nominal","legend":null},"fill":{"field":"s","type":"nominal","legend":null},"stroke":{"field":"s","type":"nominal","legend":null}}}
]},
{"width":256,"height":378,"title":{"text":"30 GeV\u00b2"},"resolve":{"axis":{"x":"independent","y":"independent"}},
"layer":[
{"data":{"name":"curve"},"transform":[{"filter":"datum.q==30"}],"mark":{"type":"line","color":"#ff0000","strokeWidth":6,"interpolate":"monotone","clip":true},
"encoding":{"x":{"field":"x","type":"quantitative","scale":{"type":"log","domain":[0.00001,0.1],"nice":false},"axis":{"orient":"bottom","values":[0.00001,0.0001,0.001,0.01,0.1],"tickSize":-17,"labels":false,"title":null}},
"y":{"field":"y","type":"quantitative","scale":{"domain":[0,0.52],"nice":false,"zero":false},"axis":{"orient":"left","values":[0,0.2,0.4],"tickSize":-18,"labels":false,"title":null}}}},
{"data":{"name":"curve"},"transform":[{"filter":"datum.q==30"}],"mark":{"type":"line","color":"#000000","strokeWidth":1.5,"strokeDash":[1.5,7],"interpolate":"monotone","clip":true},
"encoding":{"x":{"field":"x","type":"quantitative","scale":{"type":"log","domain":[0.00001,0.1],"nice":false},"axis":{"orient":"top","values":[0.00001,0.0001,0.001,0.01,0.1],"tickSize":-17,"labels":false,"title":null}},
"y":{"field":"y","type":"quantitative","scale":{"domain":[0,0.52],"nice":false,"zero":false},"axis":{"orient":"right","values":[0,0.2,0.4],"tickSize":-18,"labels":false,"title":null}}}},
{"data":{"name":"pts"},"transform":[{"filter":"datum.q==30"}],"mark":{"type":"rule","strokeWidth":1.5},
"encoding":{"x":{"field":"x","type":"quantitative","scale":{"type":"log","domain":[0.00001,0.1],"nice":false},"axis":{"orient":"bottom","values":[0.00002,0.00003,0.00004,0.00005,0.00006,0.00007,0.00008,0.00009,0.0002,0.0003,0.0004,0.0005,0.0006,0.0007,0.0008,0.0009,0.002,0.003,0.004,0.005,0.006,0.007,0.008,0.009,0.02,0.03,0.04,0.05,0.06,0.07,0.08,0.09],"tickSize":-8,"labels":false,"title":null}},
"y":{"field":"lo","type":"quantitative","scale":{"domain":[0,0.52],"nice":false,"zero":false},"axis":{"orient":"left","values":[0.05,0.1,0.15,0.25,0.3,0.35,0.45,0.5],"tickSize":-10,"labels":false,"title":null}},
"y2":{"field":"hi"},
"color":{"field":"s","type":"nominal","scale":{"domain":["H1 96-97 (D*)","H1 99-00 (VTX)","ZEUS 98-00 (D*)","ZEUS 96-97 (D*)"],"range":["#0000ff","#0000ff","#000000","#000000"]},"legend":null}}},
{"data":{"name":"pts"},"transform":[{"filter":"datum.q==30"},{"fold":["slo","shi"],"as":["k","v"]}],"mark":{"type":"tick","orient":"horizontal","size":13,"thickness":1.5},
"encoding":{"x":{"field":"x","type":"quantitative","scale":{"type":"log","domain":[0.00001,0.1],"nice":false},"axis":{"orient":"top","values":[0.00002,0.00003,0.00004,0.00005,0.00006,0.00007,0.00008,0.00009,0.0002,0.0003,0.0004,0.0005,0.0006,0.0007,0.0008,0.0009,0.002,0.003,0.004,0.005,0.006,0.007,0.008,0.009,0.02,0.03,0.04,0.05,0.06,0.07,0.08,0.09],"tickSize":-8,"labels":false,"title":null}},
"y":{"field":"v","type":"quantitative","scale":{"domain":[0,0.52],"nice":false,"zero":false},"axis":{"orient":"right","values":[0.05,0.1,0.15,0.25,0.3,0.35,0.45,0.5],"tickSize":-10,"labels":false,"title":null}},
"color":{"field":"s","type":"nominal","scale":{"domain":["H1 96-97 (D*)","H1 99-00 (VTX)","ZEUS 98-00 (D*)","ZEUS 96-97 (D*)"],"range":["#0000ff","#0000ff","#000000","#000000"]},"legend":null}}},
{"data":{"name":"pts"},"transform":[{"filter":"datum.q==30"}],"mark":{"type":"point","opacity":1,"strokeWidth":2,"size":135},
"encoding":{"x":{"field":"x","type":"quantitative","scale":{"type":"log","domain":[0.00001,0.1],"nice":false},"axis":null},
"y":{"field":"y","type":"quantitative","scale":{"domain":[0,0.52],"nice":false,"zero":false},"axis":null},
"shape":{"field":"s","type":"nominal","legend":null},"fill":{"field":"s","type":"nominal","legend":null},"stroke":{"field":"s","type":"nominal","legend":null}}}
]},
{"width":256,"height":378,"title":{"text":"60 GeV\u00b2"},"resolve":{"axis":{"x":"independent","y":"independent"}},
"layer":[
{"data":{"name":"curve"},"transform":[{"filter":"datum.q==60"}],"mark":{"type":"line","color":"#ff0000","strokeWidth":6,"interpolate":"monotone","clip":true},
"encoding":{"x":{"field":"x","type":"quantitative","scale":{"type":"log","domain":[0.00001,0.1],"nice":false},"axis":{"orient":"bottom","values":[0.00001,0.0001,0.001,0.01,0.1],"tickSize":-17,"labelExpr":"datum.value==0.00001||datum.value==0.001?'10':''","labelFontSize":33,"labelPadding":68,"labelBaseline":"alphabetic","labelOffset":-12,"title":null}},
"y":{"field":"y","type":"quantitative","scale":{"domain":[0,0.52],"nice":false,"zero":false},"axis":{"orient":"left","values":[0,0.2,0.4],"tickSize":-18,"labelExpr":"datum.value==0?'0':format(datum.value,'.1f')","labelFontSize":32,"labelPadding":26,"title":null}}}},
{"data":{"name":"curve"},"transform":[{"filter":"datum.q==60"}],"mark":{"type":"line","color":"#000000","strokeWidth":1.5,"strokeDash":[1.5,7],"interpolate":"monotone","clip":true},
"encoding":{"x":{"field":"x","type":"quantitative","scale":{"type":"log","domain":[0.00001,0.1],"nice":false},"axis":{"orient":"top","values":[0.00001,0.0001,0.001,0.01,0.1],"tickSize":-17,"labels":false,"title":null}},
"y":{"field":"y","type":"quantitative","scale":{"domain":[0,0.52],"nice":false,"zero":false},"axis":{"orient":"right","values":[0,0.2,0.4],"tickSize":-18,"labels":false,"title":null}}}},
{"data":{"name":"pts"},"transform":[{"filter":"datum.q==60"}],"mark":{"type":"rule","strokeWidth":1.5},
"encoding":{"x":{"field":"x","type":"quantitative","scale":{"type":"log","domain":[0.00001,0.1],"nice":false},"axis":{"orient":"bottom","values":[0.00002,0.00003,0.00004,0.00005,0.00006,0.00007,0.00008,0.00009,0.0002,0.0003,0.0004,0.0005,0.0006,0.0007,0.0008,0.0009,0.002,0.003,0.004,0.005,0.006,0.007,0.008,0.009,0.02,0.03,0.04,0.05,0.06,0.07,0.08,0.09],"tickSize":-8,"labels":false,"title":null}},
"y":{"field":"lo","type":"quantitative","scale":{"domain":[0,0.52],"nice":false,"zero":false},"axis":{"orient":"left","values":[0.05,0.1,0.15,0.25,0.3,0.35,0.45,0.5],"tickSize":-10,"labels":false,"title":null}},
"y2":{"field":"hi"},
"color":{"field":"s","type":"nominal","scale":{"domain":["H1 96-97 (D*)","H1 99-00 (VTX)","ZEUS 98-00 (D*)","ZEUS 96-97 (D*)"],"range":["#0000ff","#0000ff","#000000","#000000"]},"legend":null}}},
{"data":{"name":"pts"},"transform":[{"filter":"datum.q==60"},{"fold":["slo","shi"],"as":["k","v"]}],"mark":{"type":"tick","orient":"horizontal","size":13,"thickness":1.5},
"encoding":{"x":{"field":"x","type":"quantitative","scale":{"type":"log","domain":[0.00001,0.1],"nice":false},"axis":{"orient":"top","values":[0.00002,0.00003,0.00004,0.00005,0.00006,0.00007,0.00008,0.00009,0.0002,0.0003,0.0004,0.0005,0.0006,0.0007,0.0008,0.0009,0.002,0.003,0.004,0.005,0.006,0.007,0.008,0.009,0.02,0.03,0.04,0.05,0.06,0.07,0.08,0.09],"tickSize":-8,"labels":false,"title":null}},
"y":{"field":"v","type":"quantitative","scale":{"domain":[0,0.52],"nice":false,"zero":false},"axis":{"orient":"right","values":[0.05,0.1,0.15,0.25,0.3,0.35,0.45,0.5],"tickSize":-10,"labels":false,"title":null}},
"color":{"field":"s","type":"nominal","scale":{"domain":["H1 96-97 (D*)","H1 99-00 (VTX)","ZEUS 98-00 (D*)","ZEUS 96-97 (D*)"],"range":["#0000ff","#0000ff","#000000","#000000"]},"legend":null}}},
{"data":{"name":"pts"},"transform":[{"filter":"datum.q==60"}],"mark":{"type":"point","opacity":1,"strokeWidth":2,"size":135},
"encoding":{"x":{"field":"x","type":"quantitative","scale":{"type":"log","domain":[0.00001,0.1],"nice":false},"axis":{"orient":"bottom","values":[0.00001,0.001],"ticks":false,"labelExpr":"datum.value==0.00001?'-5':'-3'","labelFontSize":24,"labelPadding":28,"labelBaseline":"alphabetic","labelOffset":25,"title":null}},
"y":{"field":"y","type":"quantitative","scale":{"domain":[0,0.52],"nice":false,"zero":false},"axis":null},
"shape":{"field":"s","type":"nominal","legend":null},"fill":{"field":"s","type":"nominal","legend":null},"stroke":{"field":"s","type":"nominal","legend":null}}}
]},
{"width":256,"height":378,"title":{"text":"130 GeV\u00b2"},"resolve":{"axis":{"x":"independent","y":"independent"}},
"layer":[
{"data":{"name":"curve"},"transform":[{"filter":"datum.q==130"}],"mark":{"type":"line","color":"#ff0000","strokeWidth":6,"interpolate":"monotone","clip":true},
"encoding":{"x":{"field":"x","type":"quantitative","scale":{"type":"log","domain":[0.00001,0.1],"nice":false},"axis":{"orient":"bottom","values":[0.00001,0.0001,0.001,0.01,0.1],"tickSize":-17,"labelExpr":"datum.value==0.00001||datum.value==0.001?'10':''","labelFontSize":33,"labelPadding":68,"labelBaseline":"alphabetic","labelOffset":-12,"title":null}},
"y":{"field":"y","type":"quantitative","scale":{"domain":[0,0.52],"nice":false,"zero":false},"axis":{"orient":"left","values":[0,0.2,0.4],"tickSize":-18,"labels":false,"title":null}}}},
{"data":{"name":"curve"},"transform":[{"filter":"datum.q==130"}],"mark":{"type":"line","color":"#000000","strokeWidth":1.5,"strokeDash":[1.5,7],"interpolate":"monotone","clip":true},
"encoding":{"x":{"field":"x","type":"quantitative","scale":{"type":"log","domain":[0.00001,0.1],"nice":false},"axis":{"orient":"top","values":[0.00001,0.0001,0.001,0.01,0.1],"tickSize":-17,"labels":false,"title":null}},
"y":{"field":"y","type":"quantitative","scale":{"domain":[0,0.52],"nice":false,"zero":false},"axis":{"orient":"right","values":[0,0.2,0.4],"tickSize":-18,"labels":false,"title":null}}}},
{"data":{"name":"pts"},"transform":[{"filter":"datum.q==130"}],"mark":{"type":"rule","strokeWidth":1.5},
"encoding":{"x":{"field":"x","type":"quantitative","scale":{"type":"log","domain":[0.00001,0.1],"nice":false},"axis":{"orient":"bottom","values":[0.00002,0.00003,0.00004,0.00005,0.00006,0.00007,0.00008,0.00009,0.0002,0.0003,0.0004,0.0005,0.0006,0.0007,0.0008,0.0009,0.002,0.003,0.004,0.005,0.006,0.007,0.008,0.009,0.02,0.03,0.04,0.05,0.06,0.07,0.08,0.09],"tickSize":-8,"labels":false,"title":null}},
"y":{"field":"lo","type":"quantitative","scale":{"domain":[0,0.52],"nice":false,"zero":false},"axis":{"orient":"left","values":[0.05,0.1,0.15,0.25,0.3,0.35,0.45,0.5],"tickSize":-10,"labels":false,"title":null}},
"y2":{"field":"hi"},
"color":{"field":"s","type":"nominal","scale":{"domain":["H1 96-97 (D*)","H1 99-00 (VTX)","ZEUS 98-00 (D*)","ZEUS 96-97 (D*)"],"range":["#0000ff","#0000ff","#000000","#000000"]},"legend":null}}},
{"data":{"name":"pts"},"transform":[{"filter":"datum.q==130"},{"fold":["slo","shi"],"as":["k","v"]}],"mark":{"type":"tick","orient":"horizontal","size":13,"thickness":1.5},
"encoding":{"x":{"field":"x","type":"quantitative","scale":{"type":"log","domain":[0.00001,0.1],"nice":false},"axis":{"orient":"top","values":[0.00002,0.00003,0.00004,0.00005,0.00006,0.00007,0.00008,0.00009,0.0002,0.0003,0.0004,0.0005,0.0006,0.0007,0.0008,0.0009,0.002,0.003,0.004,0.005,0.006,0.007,0.008,0.009,0.02,0.03,0.04,0.05,0.06,0.07,0.08,0.09],"tickSize":-8,"labels":false,"title":null}},
"y":{"field":"v","type":"quantitative","scale":{"domain":[0,0.52],"nice":false,"zero":false},"axis":{"orient":"right","values":[0.05,0.1,0.15,0.25,0.3,0.35,0.45,0.5],"tickSize":-10,"labels":false,"title":null}},
"color":{"field":"s","type":"nominal","scale":{"domain":["H1 96-97 (D*)","H1 99-00 (VTX)","ZEUS 98-00 (D*)","ZEUS 96-97 (D*)"],"range":["#0000ff","#0000ff","#000000","#000000"]},"legend":null}}},
{"data":{"name":"pts"},"transform":[{"filter":"datum.q==130"}],"mark":{"type":"point","opacity":1,"strokeWidth":2,"size":135},
"encoding":{"x":{"field":"x","type":"quantitative","scale":{"type":"log","domain":[0.00001,0.1],"nice":false},"axis":{"orient":"bottom","values":[0.00001,0.001],"ticks":false,"labelExpr":"datum.value==0.00001?'-5':'-3'","labelFontSize":24,"labelPadding":28,"labelBaseline":"alphabetic","labelOffset":25,"title":null}},
"y":{"field":"y","type":"quantitative","scale":{"domain":[0,0.52],"nice":false,"zero":false},"axis":null},
"shape":{"field":"s","type":"nominal","legend":null},"fill":{"field":"s","type":"nominal","legend":null},"stroke":{"field":"s","type":"nominal","legend":null}}}
]},
{"width":256,"height":378,"title":{"text":"500 GeV\u00b2"},"resolve":{"axis":{"x":"independent","y":"independent"}},
"layer":[
{"data":{"name":"curve"},"transform":[{"filter":"datum.q==500"}],"mark":{"type":"line","color":"#ff0000","strokeWidth":6,"interpolate":"monotone","clip":true},
"encoding":{"x":{"field":"x","type":"quantitative","scale":{"type":"log","domain":[0.00001,0.1],"nice":false},"axis":{"orient":"bottom","values":[0.00001,0.0001,0.001,0.01,0.1],"tickSize":-17,"labelExpr":"datum.value==0.00001||datum.value==0.001?'10':''","labelFontSize":33,"labelPadding":68,"labelBaseline":"alphabetic","labelOffset":-12,"title":"x","titleX":252,"titleY":68,"titleAlign":"right","titleBaseline":"alphabetic","titleFontSize":38}},
"y":{"field":"y","type":"quantitative","scale":{"domain":[0,0.52],"nice":false,"zero":false},"axis":{"orient":"left","values":[0,0.2,0.4],"tickSize":-18,"labels":false,"title":null}}}},
{"data":{"name":"curve"},"transform":[{"filter":"datum.q==500"}],"mark":{"type":"line","color":"#000000","strokeWidth":1.5,"strokeDash":[1.5,7],"interpolate":"monotone","clip":true},
"encoding":{"x":{"field":"x","type":"quantitative","scale":{"type":"log","domain":[0.00001,0.1],"nice":false},"axis":{"orient":"top","values":[0.00001,0.0001,0.001,0.01,0.1],"tickSize":-17,"labels":false,"title":null}},
"y":{"field":"y","type":"quantitative","scale":{"domain":[0,0.52],"nice":false,"zero":false},"axis":{"orient":"right","values":[0,0.2,0.4],"tickSize":-18,"labels":false,"title":null}}}},
{"data":{"name":"pts"},"transform":[{"filter":"datum.q==500"}],"mark":{"type":"rule","strokeWidth":1.5},
"encoding":{"x":{"field":"x","type":"quantitative","scale":{"type":"log","domain":[0.00001,0.1],"nice":false},"axis":{"orient":"bottom","values":[0.00002,0.00003,0.00004,0.00005,0.00006,0.00007,0.00008,0.00009,0.0002,0.0003,0.0004,0.0005,0.0006,0.0007,0.0008,0.0009,0.002,0.003,0.004,0.005,0.006,0.007,0.008,0.009,0.02,0.03,0.04,0.05,0.06,0.07,0.08,0.09],"tickSize":-8,"labels":false,"title":null}},
"y":{"field":"lo","type":"quantitative","scale":{"domain":[0,0.52],"nice":false,"zero":false},"axis":{"orient":"left","values":[0.05,0.1,0.15,0.25,0.3,0.35,0.45,0.5],"tickSize":-10,"labels":false,"title":null}},
"y2":{"field":"hi"},
"color":{"field":"s","type":"nominal","scale":{"domain":["H1 96-97 (D*)","H1 99-00 (VTX)","ZEUS 98-00 (D*)","ZEUS 96-97 (D*)"],"range":["#0000ff","#0000ff","#000000","#000000"]},"legend":null}}},
{"data":{"name":"pts"},"transform":[{"filter":"datum.q==500"},{"fold":["slo","shi"],"as":["k","v"]}],"mark":{"type":"tick","orient":"horizontal","size":13,"thickness":1.5},
"encoding":{"x":{"field":"x","type":"quantitative","scale":{"type":"log","domain":[0.00001,0.1],"nice":false},"axis":{"orient":"top","values":[0.00002,0.00003,0.00004,0.00005,0.00006,0.00007,0.00008,0.00009,0.0002,0.0003,0.0004,0.0005,0.0006,0.0007,0.0008,0.0009,0.002,0.003,0.004,0.005,0.006,0.007,0.008,0.009,0.02,0.03,0.04,0.05,0.06,0.07,0.08,0.09],"tickSize":-8,"labels":false,"title":null}},
"y":{"field":"v","type":"quantitative","scale":{"domain":[0,0.52],"nice":false,"zero":false},"axis":{"orient":"right","values":[0.05,0.1,0.15,0.25,0.3,0.35,0.45,0.5],"tickSize":-10,"labels":false,"title":null}},
"color":{"field":"s","type":"nominal","scale":{"domain":["H1 96-97 (D*)","H1 99-00 (VTX)","ZEUS 98-00 (D*)","ZEUS 96-97 (D*)"],"range":["#0000ff","#0000ff","#000000","#000000"]},"legend":null}}},
{"data":{"name":"pts"},"transform":[{"filter":"datum.q==500"}],"mark":{"type":"point","opacity":1,"strokeWidth":2,"size":135},
"encoding":{"x":{"field":"x","type":"quantitative","scale":{"type":"log","domain":[0.00001,0.1],"nice":false},"axis":{"orient":"bottom","values":[0.00001,0.001],"ticks":false,"labelExpr":"datum.value==0.00001?'-5':'-3'","labelFontSize":24,"labelPadding":28,"labelBaseline":"alphabetic","labelOffset":25,"title":null}},
"y":{"field":"y","type":"quantitative","scale":{"domain":[0,0.52],"nice":false,"zero":false},"axis":null},
"shape":{"field":"s","type":"nominal","legend":null},"fill":{"field":"s","type":"nominal","legend":null},"stroke":{"field":"s","type":"nominal","legend":null}}}
]}
],
"config":{
"font":"Liberation Serif",
"view":{"stroke":"#000000","strokeWidth":1.5},
"axis":{"grid":false,"domain":false,"tickColor":"#000000","tickWidth":1.5,"labelFont":"Liberation Serif","labelFontWeight":"bold","labelColor":"#000000","labelFlush":false,"labelOverlap":false,"titleFont":"Liberation Serif","titleFontWeight":"bold","titleColor":"#000000"},
"legend":{"labelFont":"Liberation Serif","labelFontWeight":"bold","labelFontSize":23,"labelColor":"#000000","labelLimit":400,"symbolSize":135,"symbolStrokeWidth":2,"rowPadding":15,"labelOffset":10,"padding":0},
"title":{"anchor":"end","frame":"group","offset":-52,"dx":-8,"fontSize":33,"font":"Liberation Serif","fontWeight":"bold","color":"#000000","baseline":"alphabetic"}
}
}
